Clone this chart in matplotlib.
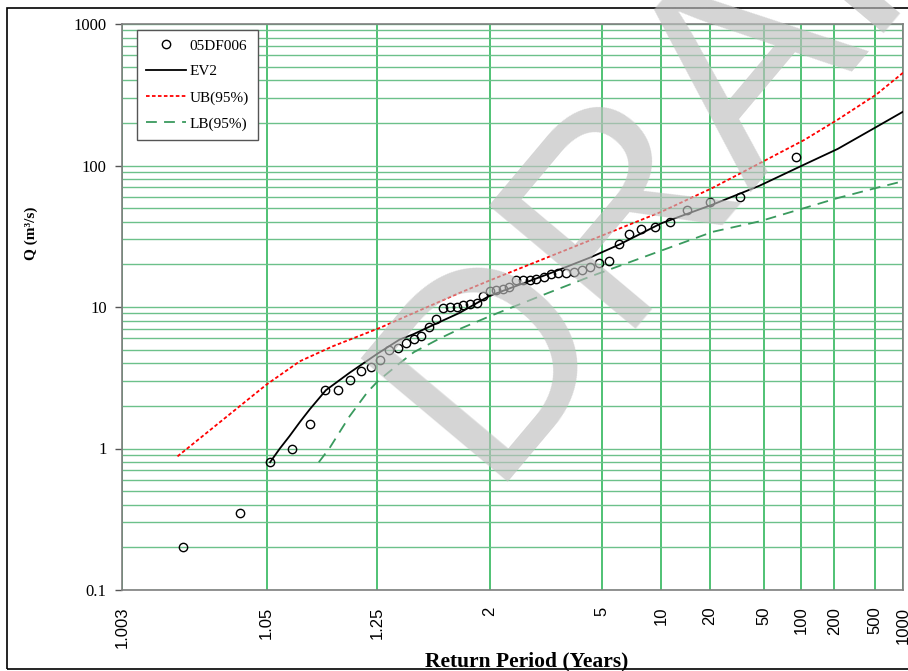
import math
import numpy as np
import matplotlib
matplotlib.use("Agg")
import matplotlib.pyplot as plt
from matplotlib.ticker import FixedLocator, NullFormatter, FixedFormatter
from matplotlib.patches import Rectangle

# observed annual peaks (ranked) and their plotted return periods
obs_T = [1.011, 1.032, 1.053, 1.075, 1.098, 1.122, 1.147, 1.174, 1.201, 1.230,
         1.260, 1.292, 1.326, 1.361, 1.398, 1.438, 1.479, 1.523, 1.570, 1.620,
         1.673, 1.730, 1.790, 1.855, 1.925, 2.000, 2.082, 2.170, 2.266, 2.371,
         2.486, 2.614, 2.754, 2.911, 3.087, 3.285, 3.511, 3.769, 4.070, 4.423,
         4.840, 5.348, 5.974, 6.761, 7.794, 9.191, 11.21, 14.36, 19.97, 32.77, 91.29]
obs_Q = [0.20, 0.35, 0.80, 0.99, 1.48, 2.58, 2.61, 3.04, 3.52, 3.78,
         4.19, 4.93, 5.11, 5.61, 5.96, 6.22, 7.17, 8.16, 9.81, 9.97,
         10.0, 10.4, 10.5, 10.7, 11.9, 13.0, 13.2, 13.4, 13.8, 15.4,
         15.5, 15.5, 15.8, 16.2, 17.1, 17.3, 17.4, 17.6, 18.2, 19.2,
         20.4, 21.2, 27.7, 32.9, 35.7, 36.9, 40.2, 48.8, 55.4, 60.1, 115]

ev2_T = [1.053, 1.062, 1.072, 1.085, 1.098, 1.124, 1.173, 1.252, 1.334, 1.395,
         1.50, 1.699, 2.0, 3.0, 4.40, 6.04, 10.0, 21.0, 45.9, 107.8, 216, 519, 1000]
ev2_Q = [0.80, 1.0, 1.22, 1.55, 1.89, 2.58, 3.43, 4.69, 5.89, 6.4,
         7.4, 9.1, 12.0, 17.0, 22.3, 27.7, 39.0, 53.0, 72.0, 101.8, 131, 187, 240]

ub_T = [1.0099, 1.050, 1.0843, 1.137, 1.259, 1.699, 2.0, 4.33, 10.0, 21.0, 107.8, 216, 519, 1000]
ub_Q = [0.88, 2.83, 4.13, 5.28, 7.12, 12.6, 15.4, 29.2, 47.0, 69.6, 152, 211, 317, 452]

lb_T = [1.112, 1.131, 1.173, 1.22, 1.253, 1.334, 1.40, 1.55, 1.70, 2.0,
        3.0, 4.33, 10.0, 21.0, 45.9, 107.8, 216, 519, 1000]
lb_Q = [0.80, 1.01, 1.69, 2.5, 3.0, 4.0, 4.8, 6.0, 7.0, 8.6,
        12.5, 16.2, 25.0, 34.0, 40.3, 50.1, 58.9, 69.4, 77.4]

x_ticks = [1.003, 1.05, 1.25, 2, 5, 10, 20, 50, 100, 200, 500, 1000]
x_ticklabels = ["1.003", "1.05", "1.25", "2", "5", "10", "20", "50", "100", "200", "500", "1000"]
y_ticks = [0.1, 1, 10, 100, 1000]
y_ticklabels = ["0.1", "1", "10", "100", "1000"]


# normal probability scale for return period
A = [-3.969683028665376e+01, 2.209460984245205e+02, -2.759285104469687e+02,
     1.383577518672690e+02, -3.066479806614716e+01, 2.506628277459239e+00]
B = [-5.447609879822406e+01, 1.615858368580409e+02, -1.556989798598866e+02,
     6.680131188771972e+01, -1.328068155288572e+01]
C = [-7.784894002430293e-03, -3.223964580411365e-01, -2.400758277161838e+00,
     -2.549732539343734e+00, 4.374664141464968e+00, 2.938163982698783e+00]
D = [7.784695709041462e-03, 3.224671290700398e-01, 2.445134137142996e+00,
     3.754408661907416e+00]


def _tail(q):
    num = ((((C[0]*q + C[1])*q + C[2])*q + C[3])*q + C[4])*q + C[5]
    den = (((D[0]*q + D[1])*q + D[2])*q + D[3])*q + 1
    return num / den


def ppf(p, pe):
    # p = non-exceedance, pe = 1 - p (kept separate for precision)
    if p <= 0:
        return -8.0
    if pe <= 0:
        return 8.0
    if p < 0.02425:
        return _tail(math.sqrt(-2 * math.log(p)))
    if pe < 0.02425:
        return -_tail(math.sqrt(-2 * math.log(pe)))
    q = p - 0.5
    r = q * q
    num = (((((A[0]*r + A[1])*r + A[2])*r + A[3])*r + A[4])*r + A[5]) * q
    den = ((((B[0]*r + B[1])*r + B[2])*r + B[3])*r + B[4])*r + 1
    return num / den


def fwd(T):
    T = np.asarray(T, dtype=float)
    out = np.empty(T.shape)
    for i, t in np.ndenumerate(T):
        if not np.isfinite(t) or t <= 1:
            out[i] = -8.0
        else:
            out[i] = ppf(1 - 1 / t, 1 / t)
    return out


def inv(z):
    z = np.asarray(z, dtype=float)
    out = np.empty(z.shape)
    for i, v in np.ndenumerate(z):
        e = 0.5 * math.erfc(v / math.sqrt(2))
        out[i] = 1 / e if e > 0 else 1e12
    return out


fig = plt.figure(figsize=(9.08, 6.71), dpi=100)
ax = fig.add_axes([122/908, 1 - 590/671, (903 - 122)/908, (590 - 24)/671])
ax.set_xscale("function", functions=(fwd, inv))
ax.set_yscale("log")
ax.set_xlim(1.003, 1000)
ax.set_ylim(0.1, 1000)

ax.plot(obs_T, obs_Q, "o", mfc="none", mec="black", ms=6, mew=1.0, label="05DF006", zorder=4)
ax.plot(ev2_T, ev2_Q, "-", color="black", lw=1.3, label="EV2", zorder=3)
ax.plot(ub_T, ub_Q, color="red", lw=1.3, linestyle=(0, (2, 1.3)), label="UB(95%)", zorder=3)
ax.plot(lb_T, lb_Q, color="#3a9a5e", lw=1.3, linestyle=(0, (6, 4)), label="LB(95%)", zorder=3)

ax.xaxis.set_major_locator(FixedLocator(x_ticks))
ax.xaxis.set_major_formatter(FixedFormatter(x_ticklabels))
ax.xaxis.set_minor_locator(FixedLocator([]))
ax.yaxis.set_major_locator(FixedLocator(y_ticks))
ax.yaxis.set_major_formatter(FixedFormatter(y_ticklabels))
ax.yaxis.set_minor_locator(matplotlib.ticker.LogLocator(base=10, subs=range(2, 10)))
ax.yaxis.set_minor_formatter(NullFormatter())

ax.grid(True, axis="x", which="major", color="#1fb14e", lw=1.1)
ax.grid(True, axis="y", which="both", color="#6cc18a", lw=1.0)
ax.set_axisbelow(True)

ax.tick_params(axis="x", which="both", length=0, pad=12, labelrotation=90, labelsize=12)
ax.tick_params(axis="y", which="major", length=5, direction="out", width=1, color="#555555",
               labelsize=12, pad=6)
ax.tick_params(axis="y", which="minor", length=0)
for lab in ax.get_xticklabels():
    lab.set_family("Liberation Sans")
for lab in ax.get_yticklabels():
    lab.set_family("Liberation Serif")

for s in ax.spines.values():
    s.set_color("#7f7f7f")
    s.set_linewidth(1.2)

ax.set_ylabel("Q (m³/s)", family="Liberation Serif", fontweight="bold", fontsize=11)
ax.yaxis.set_label_coords(-0.116, 0.631)
ax.yaxis.label.set_va("center")
ax.set_xlabel("Return Period (Years)", family="Liberation Serif", fontweight="bold", fontsize=15.5)
ax.xaxis.set_label_coords(0.518, -0.127)
ax.xaxis.label.set_va("center")

leg = ax.legend(loc="upper left", bbox_to_anchor=(0.019, 0.99), borderaxespad=0,
                prop={"family": "Liberation Serif", "size": 11}, handlelength=2.6,
                labelspacing=0.8, fancybox=False, framealpha=1, edgecolor="#555555",
                borderpad=0.6, handletextpad=0.25)
leg.get_frame().set_linewidth(1.0)

# figure border
fig.patches.append(Rectangle((7/908, 2/671), 1.2, 661/671, transform=fig.transFigure,
                             fill=False, edgecolor="black", lw=1.2))

# watermark
fig.text(485/908, 1 - 482/671, "DRAFT", rotation=50, rotation_mode="anchor",
         ha="left", va="baseline", fontsize=200, family="Liberation Sans",
         color="#bfbfbf", alpha=0.65, zorder=10)

fig.savefig("out.png", dpi=100)
